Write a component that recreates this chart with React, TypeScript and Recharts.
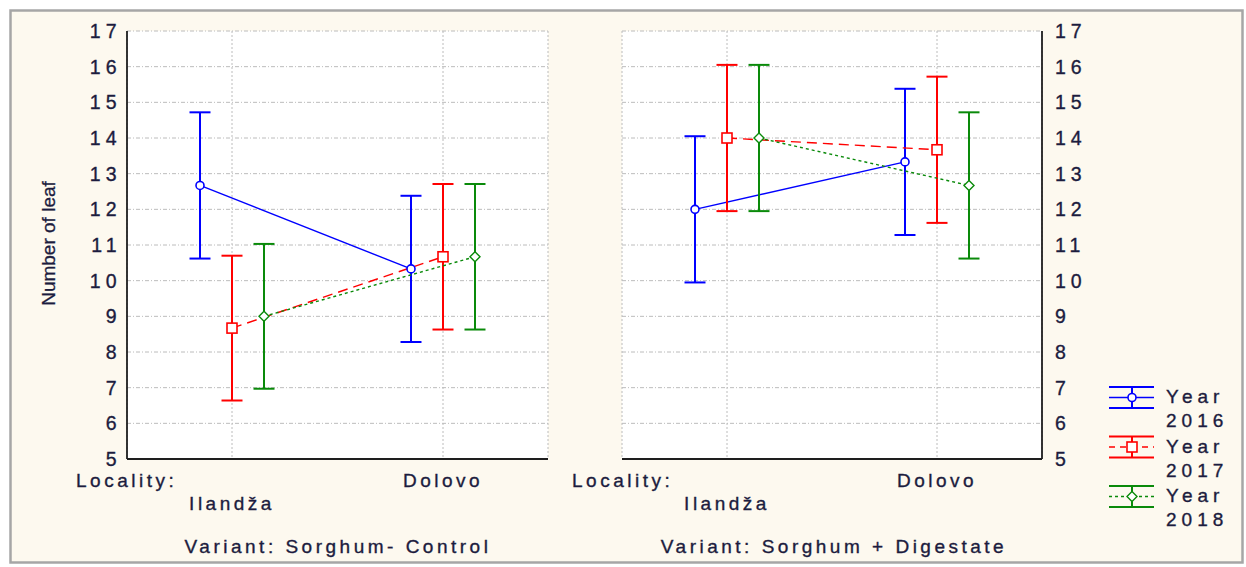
import React from 'react';
import { LineChart, Line, XAxis, YAxis, CartesianGrid, ErrorBar } from 'recharts';

const localities = ['Ilandža', 'Dolovo'];
const yearLabels = ['2016', '2017', '2018'];
const yTicks = [5, 6, 7, 8, 9, 10, 11, 12, 13, 14, 15, 16, 17];
// minor tick marks on the right edge (every quarter unit)
const minorTicks = Array.from({ length: 49 }, (_, i) => 5 + i * 0.25);

// Variant: Sorghum- Control
const control2016 = [12.67, 10.33];
const control2017 = [8.67, 10.67];
const control2018 = [9.0, 10.67];
const controlErr2016 = [2.05, 2.05];
const controlErr2017 = [2.03, 2.04];
const controlErr2018 = [2.03, 2.04];

// Variant: Sorghum + Digestate
const digest2016 = [12.0, 13.33];
const digest2017 = [14.0, 13.67];
const digest2018 = [14.0, 12.67];
const digestErr2016 = [2.05, 2.05];
const digestErr2017 = [2.05, 2.05];
const digestErr2018 = [2.05, 2.05];

const buildRows = (means: number[][], errs: number[][]) =>
  localities.map((loc, i) => ({
    loc,
    y2016: means[0][i], y2017: means[1][i], y2018: means[2][i],
    e2016: errs[0][i], e2017: errs[1][i], e2018: errs[2][i],
  }));

const controlRows = buildRows([control2016, control2017, control2018], [controlErr2016, controlErr2017, controlErr2018]);
const digestRows = buildRows([digest2016, digest2017, digest2018], [digestErr2016, digestErr2017, digestErr2018]);

const SERIES = [
  { key: 'y2016', err: 'e2016', color: '#0000ff', dash: undefined, marker: 'circle', shift: -32 },
  { key: 'y2017', err: 'e2017', color: '#ff0000', dash: '10 6', marker: 'square', shift: 0 },
  { key: 'y2018', err: 'e2018', color: '#0a8a0a', dash: '3 3', marker: 'diamond', shift: 32 },
];

const FRAME = '#1e1e1e';
const GRID = '#bcbcbc';
const INK = '#1c1c3e';
const FONT = "'Liberation Sans', Arial, sans-serif";
const TEXT: React.CSSProperties = { fontFamily: FONT, fontSize: 19, letterSpacing: '3.5px', fill: INK, stroke: INK, strokeWidth: 0.35 };
const TICK_SPACING = 5;
const TICK_TEXT: React.CSSProperties = { ...TEXT, fontSize: 19.5, letterSpacing: `${TICK_SPACING}px` };
const LEGEND_TEXT: React.CSSProperties = { ...TEXT, letterSpacing: '5px' };
const PAD = 105;
const frameLine = { stroke: FRAME, strokeWidth: 1.8 };

const Marker = ({ kind, cx, cy, color }: { kind: string; cx: number; cy: number; color: string }) => {
  if (kind === 'circle') return <circle cx={cx} cy={cy} r={4} fill="#fff" stroke={color} strokeWidth={1.6} />;
  if (kind === 'square') return <rect x={cx - 5} y={cy - 5} width={10} height={10} fill="#fff" stroke={color} strokeWidth={1.6} />;
  return <polygon points={`${cx},${cy - 5} ${cx + 5},${cy} ${cx},${cy + 5} ${cx - 5},${cy}`} fill="#fff" stroke={color} strokeWidth={1.4} />;
};

const XTick = (props: any) => {
  const { x, y, payload } = props;
  const lower = payload.value === localities[0];
  return (
    <text x={x} y={y + (lower ? 43 : 20)} textAnchor="middle" style={TEXT}>
      {payload.value}
    </text>
  );
};

const YTick = (props: any) => {
  const { x, y, payload, textAnchor } = props;
  return (
    <text x={x} y={y} dx={textAnchor === 'end' ? TICK_SPACING : 0} dy={7} textAnchor={textAnchor} style={TICK_TEXT}>
      {payload.value}
    </text>
  );
};

const Panel = ({ rows, side }: { rows: any[]; side: 'left' | 'right' }) => {
  const isLeft = side === 'left';
  return (
    <LineChart
      width={560}
      height={567}
      data={rows}
      margin={isLeft ? { top: 31, right: 12, bottom: 48, left: 67 } : { top: 31, right: 18, bottom: 48, left: 62 }}
    >
      <CartesianGrid vertical={false} fill="#ffffff" stroke={GRID} strokeDasharray="4 2 1 2" />
      <CartesianGrid horizontal={false} stroke={GRID} strokeDasharray="2 2" />
      <XAxis
        dataKey="loc"
        type="category"
        height={60}
        interval={0}
        padding={{ left: PAD, right: PAD }}
        axisLine={frameLine}
        tickLine={false}
        tick={<XTick />}
      />
      <XAxis
        xAxisId="top"
        orientation="top"
        dataKey="loc"
        type="category"
        mirror
        height={0}
        interval={0}
        padding={{ left: PAD, right: PAD }}
        axisLine={frameLine}
        tickLine={{ stroke: FRAME }}
        tickSize={4}
        tick={false}
      />
      {SERIES.map((s) => (
        <XAxis
          key={s.key}
          xAxisId={s.key}
          dataKey="loc"
          type="category"
          hide
          padding={{ left: PAD + s.shift, right: PAD - s.shift }}
        />
      ))}
      <YAxis
        orientation={isLeft ? 'left' : 'right'}
        width={60}
        type="number"
        domain={[5, 17]}
        ticks={yTicks}
        interval={0}
        tickLine={false}
        tickSize={6}
        tickMargin={isLeft ? 4.5 : 7}
        axisLine={frameLine}
        tick={<YTick />}
      />
      <YAxis
        yAxisId="inL"
        orientation="left"
        mirror
        width={0}
        type="number"
        domain={[5, 17]}
        ticks={yTicks}
        interval={0}
        tick={false}
        tickSize={6}
        tickLine={{ stroke: FRAME }}
        axisLine={isLeft ? false : frameLine}
      />
      <YAxis
        yAxisId="minR"
        orientation="right"
        mirror
        width={0}
        type="number"
        domain={[5, 17]}
        ticks={minorTicks}
        interval={0}
        tick={false}
        tickSize={3.5}
        tickLine={{ stroke: FRAME }}
        axisLine={isLeft ? frameLine : false}
      />
      <YAxis
        yAxisId="majR"
        orientation="right"
        mirror
        width={0}
        type="number"
        domain={[5, 17]}
        ticks={yTicks}
        interval={0}
        tick={false}
        tickSize={7}
        tickLine={{ stroke: FRAME }}
        axisLine={false}
      />
      {SERIES.map((s) => (
        <Line
          key={s.key}
          xAxisId={s.key}
          dataKey={s.key}
          stroke={s.color}
          strokeWidth={1.4}
          strokeDasharray={s.dash}
          isAnimationActive={false}
          activeDot={false}
          dot={(p: any) => <Marker key={`${s.key}-${p.index}`} kind={s.marker} cx={p.cx} cy={p.cy} color={s.color} />}
        >
          <ErrorBar dataKey={s.err} direction="y" width={10.5} stroke={s.color} strokeWidth={2} isAnimationActive={false} />
        </Line>
      ))}
    </LineChart>
  );
};

const LegendBox = () => (
  <g>
    {SERIES.map((s, i) => {
      const top = 387 + i * 49.5;
      const mid = top + 10.5;
      return (
        <g key={s.key}>
          <line x1={1109} y1={top} x2={1154} y2={top} stroke={s.color} strokeWidth={2} />
          <line x1={1109} y1={top + 21} x2={1154} y2={top + 21} stroke={s.color} strokeWidth={2} />
          <line x1={1132} y1={top} x2={1132} y2={top + 21} stroke={s.color} strokeWidth={2} />
          <line x1={1109} y1={mid} x2={1154} y2={mid} stroke={s.color} strokeWidth={1.4} strokeDasharray={s.dash ? (i === 1 ? '6 5' : '3 3') : undefined} />
          <Marker kind={s.marker} cx={1132} cy={mid} color={s.color} />
          <text x={1166} y={top + 16} style={LEGEND_TEXT}>Year</text>
          <text x={1166} y={top + 40} style={LEGEND_TEXT}>{yearLabels[i]}</text>
        </g>
      );
    })}
  </g>
);

export default function App() {
  return (
    <div style={{ position: 'absolute', left: 0, top: 0, width: 1246, height: 567, background: '#ffffff', overflow: 'hidden' }}>
      <svg width={1246} height={567} style={{ position: 'absolute', left: 0, top: 0 }}>
        <rect x={10.5} y={10.5} width={1232} height={552} fill="#fdf9ef" stroke="#a6a6a6" strokeWidth={2.5} />
      </svg>
      <div style={{ position: 'absolute', left: 0, top: 0 }}>
        <Panel rows={controlRows} side="left" />
      </div>
      <div style={{ position: 'absolute', left: 560, top: 0 }}>
        <Panel rows={digestRows} side="right" />
      </div>
      <svg width={1246} height={567} style={{ position: 'absolute', left: 0, top: 0, pointerEvents: 'none' }}>
        <text transform="translate(55,243.5) rotate(-90)" textAnchor="middle" style={{ fontFamily: FONT, fontSize: 19, fill: INK, stroke: INK, strokeWidth: 0.3 }}>
          Number of leaf
        </text>
        <text x={76} y={487} style={TEXT}>Locality:</text>
        <text x={572} y={487} style={TEXT}>Locality:</text>
        <text x={338} y={553} textAnchor="middle" style={TEXT}>Variant: Sorghum- Control</text>
        <text x={834} y={553} textAnchor="middle" style={TEXT}>Variant: Sorghum + Digestate</text>
        <LegendBox />
      </svg>
    </div>
  );
}
